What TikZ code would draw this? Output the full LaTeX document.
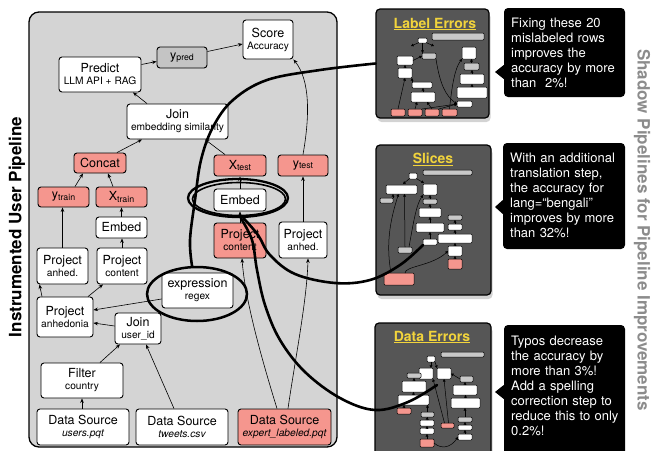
\documentclass[tikz,border=0pt]{standalone}
\usepackage{fontspec}
\setmainfont{TeX Gyre Heros}
\usetikzlibrary{arrows.meta,calc,shadows,shapes.geometric}
\definecolor{bg}{RGB}{212,212,212}
\definecolor{salmon}{RGB}{245,150,142}
\definecolor{predgray}{RGB}{196,196,196}
\definecolor{panel}{RGB}{86,86,86}
\definecolor{ttl}{RGB}{242,212,60}
\definecolor{minigray}{RGB}{200,200,200}
\definecolor{sidegray}{RGB}{140,140,140}
\newcommand\mt{\fontsize{12.5}{14}\selectfont}
\newcommand\st{\fontsize{10.2}{12}\selectfont}
\newcommand\sbt{\fontsize{8.8}{10}\selectfont}
\newcommand\sub[1]{\raisebox{-1.2pt}{\sbt #1}}
\newcommand\mini[6]{\node[#2, minimum width={(#5-#3)*1pt}, minimum height={(#6-#4)*1pt}] (#1) at ({(#3+#5)/2},{(#4+#6)/2}) {};}
\begin{document}
\begin{tikzpicture}[x=1pt,y=-1pt,
  box/.style={draw=black, line width=0.9pt, rounded corners=3pt, fill=white, inner sep=0pt, align=center, font=\mt},
  redbox/.style={box, fill=salmon},
  arr/.style={-{Stealth[length=4.5pt,width=3.6pt]}, line width=0.6pt},
  bigline/.style={line width=2.6pt, line cap=round},
  ellnode/.style={draw, ellipse, inner sep=0pt, line width=2.3pt},
  panelbox/.style={draw=black, line width=1.2pt, rounded corners=4pt, fill=panel, inner sep=0pt, drop shadow={shadow xshift=1.5pt, shadow yshift=-4pt, opacity=0.35}},
  ptitle/.style={font=\bfseries\fontsize{14}{14}\selectfont, text=ttl, inner sep=0pt},
  callbox/.style={fill=black, rounded corners=4pt, inner sep=0pt},
  calltext/.style={anchor=north west, text=white, font=\fontsize{13}{15}\selectfont, text width=114pt, align=left, inner sep=0pt},
  mbase/.style={draw=black, line width=0.5pt, rounded corners=1pt, inner sep=0pt, outer sep=0pt},
  mw/.style={mbase, fill=white},
  mg/.style={mbase, fill=minigray},
  mr/.style={mbase, fill=salmon},
  marr/.style={-{Triangle[length=2.6pt,width=2.8pt]}, line width=0.5pt},
]
\clip (0,0) rectangle (653,450);

% ---------- main pipeline ----------
\node[draw, line width=1.3pt, rounded corners=10pt, fill=bg, minimum width=308pt, minimum height=435pt, inner sep=0pt] (main) at (183,229.5) {};
\node[rotate=90, font=\bfseries\fontsize{17}{17}\selectfont, inner sep=0pt] (ltitle) at (17,227) {Instrumented User Pipeline};
\node[rotate=-90, font=\bfseries\fontsize{17}{17}\selectfont, text=sidegray, inner sep=0pt] (rtitle) at (642,230) {Shadow Pipelines for Pipeline Improvements};

\node[box, minimum width=50pt, minimum height=39pt] (score) at (268,39.5) {Score\\[-2pt]{\st Accuracy}};
\node[box, fill=predgray, minimum width=50pt, minimum height=21pt] (ypred) at (182,57.5) {y\sub{pred}};
\node[box, minimum width=82pt, minimum height=35pt] (predict) at (100,74.5) {Predict\\[-2pt]{\st LLM API + RAG}};
\node[box, minimum width=101pt, minimum height=35pt] (joinsim) at (177.5,121.5) {Join\\[-2pt]{\st embedding similarity}};
\node[redbox, minimum width=52pt, minimum height=20pt] (concat) at (100,163) {Concat};
\node[redbox, minimum width=51pt, minimum height=20pt] (ytrain) at (63.5,197) {y\sub{train}};
\node[redbox, minimum width=51pt, minimum height=20pt] (xtrain) at (121.5,197) {X\sub{train}};
\node[box, minimum width=51pt, minimum height=21pt] (embedL) at (121.5,227.5) {Embed};
\node[box, minimum width=51pt, minimum height=36pt] (projanhL) at (62.5,266) {Project\\[-2pt]{\st anhed.}};
\node[box, minimum width=50pt, minimum height=36pt] (projcontL) at (122,266) {Project\\[-2pt]{\st content}};
\node[redbox, minimum width=52pt, minimum height=21pt] (xtest) at (240,165.5) {X\sub{test}};
\node[redbox, minimum width=50pt, minimum height=21pt] (ytest) at (303,165.5) {y\sub{test}};
\node[box, minimum width=52pt, minimum height=22pt] (embedM) at (240,200) {Embed};
\node[redbox, minimum width=52pt, minimum height=35pt] (projcontM) at (240,240.5) {Project\\[-2pt]{\st content}};
\node[box, minimum width=48pt, minimum height=36pt] (projanhR) at (303,240) {Project\\[-2pt]{\st anhed.}};
\node[box, minimum width=71pt, minimum height=35pt] (expr) at (197.5,290.5) {expression\\[-2pt]{\st regex}};
\node[box, minimum width=56pt, minimum height=40pt] (projanhedonia) at (65,317) {Project\\[-2pt]{\st anhedonia}};
\node[box, minimum width=46pt, minimum height=31pt] (joinuser) at (138,328.5) {Join\\[-2pt]{\st user\_id}};
\node[box, minimum width=82pt, minimum height=35pt] (filter) at (82,380.5) {Filter\\[-2pt]{\st country}};
\node[box, minimum width=92pt, minimum height=36pt] (dsusers) at (83,427) {Data Source\\[-2pt]{\st\itshape users.pqt}};
\node[box, minimum width=92pt, minimum height=36pt] (dstweets) at (182,427) {Data Source\\[-2pt]{\st\itshape tweets.csv}};
\node[redbox, minimum width=93pt, minimum height=36pt] (dsexpert) at (284.5,427) {Data Source\\[-2pt]{\st\itshape expert\_labeled.pqt}};

\draw[arr] ($(dsusers.north)+(-1,0)$) -- (filter.south);
\draw[arr] ($(filter.north)+(18,0)$) -- ($(joinuser.south)+(-18,0)$);
\draw[arr] ($(dstweets.north)+(-8,0)$) -- ($(joinuser.south)+(8,0)$);
\draw[arr] ($(joinuser.west)+(0,-2.5)$) -- ($(projanhedonia.east)+(0,6)$);
\draw[arr] ($(expr.west)+(0,8.5)$) -- ($(projanhedonia.east)+(0,-7)$);
\draw[arr] ($(projanhedonia.north)+(-23,0)$) -- ($(projanhL.south)+(-23,0)$);
\draw[arr] ($(projanhedonia.north)+(23,0)$) -- ($(projcontL.south)+(-19,0)$);
\draw[arr] (projanhL.north) -- (projanhL.north |- ytrain.south);
\draw[arr] (projcontL.north) -- (projcontL.north |- embedL.south);
\draw[arr] (embedL.north) -- (xtrain.south);
\draw[arr] ($(ytrain.north)+(11.5,0)$) -- ($(concat.south)+(-17,0)$);
\draw[arr] ($(xtrain.north)+(-8.5,0)$) -- ($(concat.south)+(8,0)$);
\draw[arr] ($(concat.north)+(17,0)$) -- ($(joinsim.south)+(-35.5,0)$);
\draw[arr] ($(xtest.north)+(-15,0)$) -- ($(joinsim.south)+(27.5,0)$);
\draw[arr] ($(joinsim.north)+(-30.5,0)$) -- ($(predict.south)+(33,0)$);
\draw[arr] ($(predict.east)+(0,-10)$) -- ($(ypred.west)+(0,4)$);
\draw[arr] ($(ypred.east)+(0,-6)$) -- ($(score.west)+(0,4.5)$);
\draw[arr] (ytest.north) .. controls (310,115) and (310,80) .. (score.south east);
\draw[arr] (projanhR.north) -- (projanhR.north |- ytest.south);
\draw[arr] (embedM.north) -- (xtest.south);
\draw[arr] (projcontM.north) -- (embedM.south);
\draw[arr] ($(dsexpert.north)+(-7.5,0)$) .. controls (262,360) and (245,300) .. ($(projcontM.south)+(2,0)$);
\draw[arr] ($(dsexpert.north)+(3.5,0)$) .. controls (295,360) and (307,300) .. ($(projanhR.south)+(5,0)$);

% ---------- panels ----------
\node[panelbox, minimum width=113pt, minimum height=109pt] (pLE) at (432.5,63.5) {};
\node[panelbox, minimum width=115pt, minimum height=150pt] (pSL) at (433.5,220) {};
\node[panelbox, minimum width=116pt, minimum height=147pt] (pDE) at (433,396.5) {};
\node[ptitle] (tLE) at (435,24) {\underline{Label Errors}};
\node[ptitle] (tSL) at (433,159) {\underline{Slices}};
\node[ptitle] (tDE) at (432,337) {\underline{Data Errors}};

% Label Errors mini pipeline
\mini{le0}{mg}{432}{33}{484}{40}
\mini{le1}{mw}{418}{38}{427}{43}
\mini{le2}{mg}{422}{53}{436}{59}
\mini{le3}{mw}{397}{56}{413}{65}
\mini{le4}{mw}{398}{68}{412}{78}
\mini{le5}{mw}{412}{82}{432}{88}
\mini{le6}{mw}{411}{92}{435}{102}
\mini{le7}{mw}{462}{47}{476}{59}
\mini{le8}{mg}{464}{63}{479}{70}
\mini{le9}{mw}{460}{74}{484}{84}
\mini{le10}{mw}{457}{87}{487}{98}
\mini{le11}{mw}{457}{101}{472}{107}
\mini{lr1}{mr}{391}{109}{405}{116}
\mini{lr2}{mr}{408}{109}{422}{116}
\mini{lr3}{mr}{425}{109}{439}{116}
\mini{lr4}{mr}{442}{109}{457}{116}
\draw[marr] (le1.south west) -- (411,46);
\draw[marr] (le1.south east) -- (434,46);
\draw[marr] (le1.south) -- (le1.south |- le2.north);
\draw[marr] (le3.east) -- (le2.west);
\draw[marr] (le4.north) -- (le4.north |- le3.south);
\draw[marr] (le5.north west) -- (le4.south east);
\draw[marr] (le6.north) -- (le6.north |- le5.south);
\draw[marr] (lr1.north) -- (le4.south);
\draw[marr] (lr2.north) -- ($(le6.south)+(-6,0)$);
\draw[marr] (lr3.north) -- ($(le6.south)+(4,0)$);
\draw[marr] (le2.south east) .. controls (440,85) and (446,96) .. (le11.west);
\draw[marr] (lr4.north) .. controls (452,85) and (455,68) .. (le7.south west);
\draw[marr] (le8.north) -- (le8.north |- le7.south);
\draw[marr] (le9.north) -- (le9.north |- le8.south);
\draw[marr] (le10.north) -- (le10.north |- le9.south);
\draw[marr] (lr2.north east) -- (le11.west);
\draw[marr] (lr3.north east) -- (le11.west);

% Slices mini pipeline
\mini{s0}{mg}{423}{170}{472}{175}
\mini{s1}{mw}{409}{173}{417}{179}
\mini{s2}{mw}{386}{185}{417}{194}
\mini{s3}{mw}{423}{184}{437}{195}
\mini{s4}{mg}{380}{198}{393}{203}
\mini{s5}{mg}{423}{199}{437}{204}
\mini{s6}{mw}{419}{208}{441}{217}
\mini{s7}{mw}{416}{223}{444}{232}
\mini{s8}{mg}{448}{215}{462}{220}
\mini{s9}{mw}{448}{224}{462}{230}
\mini{s10}{mw}{438}{234}{472}{243}
\mini{s11}{mw}{423}{239}{437}{245}
\mini{s12}{mg}{398}{247}{412}{253}
\mini{s13}{mw}{448}{246}{462}{256}
\mini{s14}{mr}{448}{259}{462}{269}
\mini{s15}{mr}{384}{273}{414}{285}
\draw[marr] (s1.south west) -- (403,184);
\draw[marr] (s1.south east) -- (424,183);
\draw[marr] (s4.north east) -- (s4.north east |- s2.south);
\draw[marr] (s5.north) -- (s5.north |- s3.south);
\draw[marr] (s6.north) -- (s6.north |- s5.south);
\draw[marr] (s7.north) -- (s7.north |- s6.south);
\draw[marr] (s9.north) -- (s9.north |- s8.south);
\draw[marr] (s10.north) -- (s10.north |- s9.south);
\draw[marr] (s11.north) -- (s11.north |- s7.south);
\draw[marr] (s13.north) -- (s13.north |- s10.south);
\draw[marr] (s14.north) -- (s13.south);
\draw[marr] ($(s15.north)+(-8,0)$) .. controls (385,240) and (392,215) .. ($(s2.south)+(-3,0)$);
\draw[marr] (s12.north) -- ($(s2.south)+(3,0)$);
\draw[marr] ($(s12.north)+(4,0)$) .. controls (413,225) and (416,205) .. (s3.south west);
\draw[marr] ($(s15.north)+(6,0)$) .. controls (405,266) and (432,266) .. (s13.west);

% Data Errors mini pipeline
\mini{d0}{mg}{441}{352}{484}{357}
\mini{d1}{mw}{427}{356}{435}{362}
\mini{d2}{mw}{419}{368}{433}{379}
\mini{d3}{mw}{437}{368}{451}{379}
\mini{d4}{mg}{407}{373}{421}{378}
\mini{d5}{mg}{460}{376}{473}{382}
\mini{d6}{mw}{402}{381}{426}{392}
\mini{d7}{mw}{453}{385}{477}{395}
\mini{d8}{mw}{398}{395}{429}{405}
\mini{d9}{mw}{451}{398}{480}{408}
\mini{d10}{mr}{397}{408}{411}{414}
\mini{d11}{mg}{421}{412}{434}{417}
\mini{d12}{mw}{420}{420}{434}{426}
\mini{d13}{mw}{420}{428}{434}{434}
\mini{d14}{mr}{420}{439}{434}{447}
\mini{d15}{mr}{441}{423}{454}{428}
\mini{d16}{mg}{458}{417}{472}{422}
\mini{d17}{mw}{458}{425}{472}{430}
\mini{d18}{mw}{458}{434}{472}{440}
\draw[marr] (d1.south east) -- (d3.north west);
\draw[marr] (d1.south) -- (d1.south |- d2.north);
\draw[marr] (d6.north) -- (d6.north |- d4.south);
\draw[marr] (d5.west) -- (d3.east);
\draw[marr] (d7.north) -- (d7.north |- d5.south);
\draw[marr] (d9.north) -- (d9.north |- d7.south);
\draw[marr] (d8.north) -- (d8.north |- d6.south);
\draw[marr] (d10.north) -- (d10.north |- d8.south);
\draw[marr] (d11.north) -- (d11.north |- d8.south);
\draw[marr] (d12.north) -- (d11.south);
\draw[marr] (d13.north) -- (d12.south);
\draw[marr] (d14.north) -- (d13.south);
\draw[marr] (d16.north) -- (d16.north |- d9.south);
\draw[marr] (d17.north) -- (d16.south);
\draw[marr] (d18.north) -- (d17.south);
\draw[marr] ($(d15.north)+(-3,0)$) -- (d2.south east);
\draw[marr] ($(d15.north)+(1,0)$) -- (d3.south);
\draw[marr] (d14.east) .. controls (442,450) and (451,447) .. (d18.west);

% ---------- callouts ----------
\node[callbox, minimum width=121pt, minimum height=89pt] (c1) at (564.5,52.5) {};
\node[callbox, minimum width=122pt, minimum height=106pt] (c2) at (564,196) {};
\node[callbox, minimum width=121pt, minimum height=145pt] (c3) at (564.5,397.5) {};
\fill (c1.west |- 0,65) -- (495,72) -- (c1.west |- 0,79) -- cycle;
\fill (c2.west |- 0,200) -- (495,207) -- (c2.west |- 0,214) -- cycle;
\fill (c3.west |- 0,385) -- (495,392) -- (c3.west |- 0,399) -- cycle;
\node[calltext] (t1) at (511,18) {Fixing these 20\\mislabeled rows\\improves the\\accuracy by more\\than\ \ 2\%!};
\node[calltext] (t2) at (510,153) {With an additional\\translation step,\\the accuracy for\\lang=“bengali”\\improves by more\\than 32\%!};
\node[calltext] (t3) at (511,336) {Typos decrease\\the accuracy by\\more than 3\%!\\Add a spelling\\correction step to\\reduce this to only\\0.2\%!};

% ---------- highlight curves ----------
\node[ellnode, minimum width=100pt, minimum height=38pt] (ellE) at (238,198) {};
\node[ellnode, line width=1.6pt, minimum width=93pt, minimum height=33pt] (ellE2) at (239,199) {};
\node[ellnode, line width=2.5pt, minimum width=100pt, minimum height=54pt] (ellX) at (197,294) {};
\coordinate (deend) at (437,385);
\draw[bigline] plot[smooth, tension=0.6] coordinates {(ellX.100) (190,240) (195,200) (201,160) (213,127) (233,100) (267,80) (320,70) (pLE.west)};
\draw[bigline] plot[smooth, tension=0.6] coordinates {(ellE.-75) (258,235) (270,255) (295,274) (335,283) (370,280) (400,265) (s11.south west)};
\draw[bigline] plot[smooth, tension=0.6] coordinates {(ellE.-82) (252,240) (257,270) (265,305) (280,340) (305,372) (340,398) (375,410) (408,402) (deend)};
\end{tikzpicture}
\end{document}
